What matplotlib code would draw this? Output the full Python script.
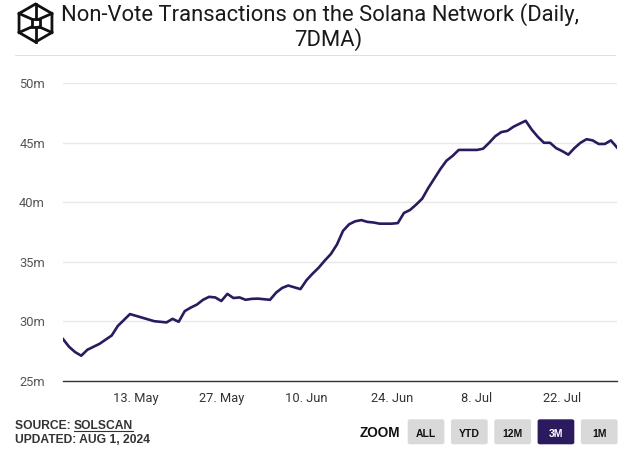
import numpy as np
import pandas as pd
import matplotlib
matplotlib.use("Agg")
import matplotlib.pyplot as plt
from matplotlib.patches import FancyBboxPatch, Polygon
from matplotlib.lines import Line2D

# daily 7DMA non-vote transactions (millions), 1 May - 31 Jul 2024
start = "2024-05-01"
values = [
    28.5, 27.85, 27.4, 27.1, 27.6, 27.85, 28.1, 28.45, 28.8, 29.6,
    30.1, 30.6, 30.45, 30.3, 30.15, 30.0, 29.95, 29.9, 30.2, 29.95,
    30.85, 31.15, 31.4, 31.8, 32.05, 32.0, 31.7, 32.3, 31.95, 32.0,
    31.8, 31.88, 31.9, 31.85, 31.8, 32.4, 32.8, 33.0, 32.85, 32.7,
    33.45, 34.0, 34.5, 35.1, 35.65, 36.45, 37.6, 38.15, 38.4, 38.5,
    38.35, 38.3, 38.2, 38.2, 38.2, 38.25, 39.1, 39.35, 39.8, 40.3,
    41.2, 42.0, 42.8, 43.5, 43.9, 44.4, 44.4, 44.4, 44.4, 44.5,
    45.0, 45.55, 45.9, 46.0, 46.35, 46.6, 46.85, 46.1, 45.5, 45.0,
    45.0, 44.55, 44.3, 44.0, 44.55, 45.0, 45.3, 45.2, 44.9, 44.9,
    45.2, 44.6,
]
dates = pd.date_range(start, periods=len(values), freq="D")

y_ticks = [25, 30, 35, 40, 45, 50]
x_ticks = ["2024-05-13", "2024-05-27", "2024-06-10", "2024-06-24", "2024-07-08", "2024-07-22"]
x_labels = ["13. May", "27. May", "10. Jun", "24. Jun", "8. Jul", "22. Jul"]
buttons = ["ALL", "YTD", "12M", "3M", "1M"]
selected = "3M"

LINE = "#2b1a5e"
W, H = 638, 457

fig = plt.figure(figsize=(W / 100, H / 100), dpi=100)
fig.patch.set_facecolor("white")


def fx(px):
    return px / W


def fy(py):
    return 1 - py / H


ax = fig.add_axes([fx(63), fy(380.7), fx(617 - 63), (380.7 - 83.3) / H])
ax.plot(dates, values, color=LINE, lw=1.9, solid_joinstyle="round")
ax.set_xlim(dates[0], dates[-1])
ax.set_ylim(25, 50)
ax.set_yticks(y_ticks)
ax.set_yticklabels([f"{v}m" for v in y_ticks])
ax.set_xticks(pd.to_datetime(x_ticks))
ax.set_xticklabels(x_labels)
ax.grid(axis="y", color="#e8e8e8", lw=1)
ax.set_axisbelow(True)
for s in ["top", "right", "left"]:
    ax.spines[s].set_visible(False)
ax.spines["bottom"].set_color("#333333")
ax.spines["bottom"].set_linewidth(1.0)
ax.tick_params(axis="both", length=0)
ax.tick_params(axis="y", pad=13, labelsize=9.3, labelcolor="#555555")
ax.tick_params(axis="x", pad=8, labelsize=9.3, labelcolor="#333333")
for lab in ax.get_xticklabels() + ax.get_yticklabels():
    lab.set_fontfamily("Roboto")

# title
fig.text(fx(320), fy(21), "Non-Vote Transactions on the Solana Network (Daily,",
         ha="center", va="baseline", fontsize=15.8, family="Roboto",
         color="#1a1a1a")
fig.text(fx(328), fy(46), "7DMA)", ha="center", va="baseline", fontsize=15.8,
         family="Roboto", color="#1a1a1a")
fig.add_artist(Line2D([fx(15), fx(615)], [fy(55), fy(55)], color="#c070ff",
                      lw=0.5, alpha=0.45))

# logo: hexagon with inner box
cx, cy, r = 35.5, 23, 19
hexa = [(cx + r * np.sin(a), cy - r * np.cos(a)) for a in np.linspace(0, 2 * np.pi, 7)[:-1]]
fig.add_artist(Polygon([(fx(x), fy(y)) for x, y in hexa], closed=True, fill=False,
                       ec="#111111", lw=2.0, transform=fig.transFigure))
sq = [(cx - 4, cy - 4), (cx + 4, cy - 4), (cx + 4, cy + 4), (cx - 4, cy + 4)]
fig.add_artist(Polygon([(fx(x), fy(y)) for x, y in sq], closed=True, fill=False,
                       ec="#111111", lw=2.0, transform=fig.transFigure))
for (hx, hy), (sx, sy) in zip([hexa[5], hexa[1], hexa[2], hexa[4]], sq):
    fig.add_artist(Line2D([fx(hx), fx(sx)], [fy(hy), fy(sy)], color="#111111", lw=2.0))
fig.add_artist(Line2D([fx(cx), fx(cx)], [fy(cy - r), fy(cy - 4)], color="#111111", lw=2.0))
fig.add_artist(Line2D([fx(cx), fx(cx)], [fy(cy + r), fy(cy + 4)], color="#111111", lw=2.0))

# source / updated
fig.text(fx(15), fy(429), "SOURCE: ", ha="left", va="baseline", fontsize=8.7,
         family="Liberation Sans", weight="bold", color="#333333")
fig.text(fx(74), fy(429), "SOLSCAN", ha="left", va="baseline", fontsize=8.7,
         family="Liberation Sans", weight="bold", color="#333333")
fig.add_artist(Line2D([fx(74), fx(133)], [fy(431), fy(431)], color="#333333", lw=0.8))
fig.text(fx(15), fy(443), "UPDATED: AUG 1, 2024", ha="left", va="baseline", fontsize=8.7,
         family="Liberation Sans", weight="bold", color="#333333")

# zoom buttons
fig.text(fx(380), fy(433), "ZOOM", ha="center", va="center", fontsize=9.8,
         family="Liberation Sans", weight="bold", color="#111111")
for i, b in enumerate(buttons):
    x0 = 407.7 + i * 43.3
    sel = b == selected
    fig.add_artist(FancyBboxPatch((fx(x0), fy(444.3)), fx(36.7), 25 / H,
                                  boxstyle="round,pad=0,rounding_size=0.004",
                                  fc=LINE if sel else "#d9d9d9", ec="none",
                                  transform=fig.transFigure))
    fig.text(fx(x0 + 18.3), fy(434), b, ha="center", va="center", fontsize=7.5,
             family="Liberation Sans", weight="bold",
             color="white" if sel else "#111111")

fig.savefig("out.png", dpi=100)
